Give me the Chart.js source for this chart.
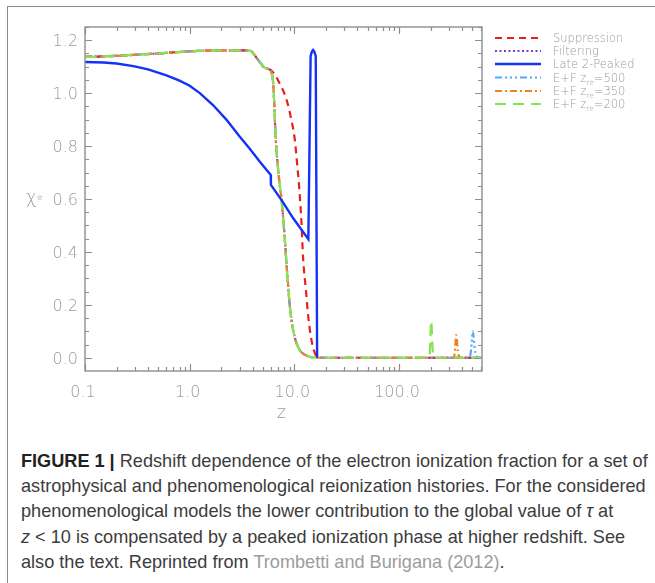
<!DOCTYPE html>
<html>
<head>
<meta charset="utf-8">
<script src="https://cdn.jsdelivr.net/npm/chart.js@4.4.1/dist/chart.umd.min.js"></script>
<style>
  html, body { margin: 0; padding: 0; background: #fff; width: 655px; height: 583px; overflow: hidden; }
  #frame { position: absolute; left: 7px; top: 6px; width: 720px; height: 660px;
           border-left: 1.5px solid #8c8c8c; border-top: 1.5px solid #8c8c8c; }
  #plot { position: absolute; left: 0; top: 0; }
  #caption { position: absolute; left: 21px; top: 0; font-family: "Liberation Sans", Arial, sans-serif; color: #3c3c3c; }
  #caption div { position: absolute; left: 0; white-space: nowrap; }
  #caption b { color: #222; }
  #caption .ref { color: #9c9c9c; }
</style>
</head>
<body>
<div id="frame"></div>
<canvas id="plot" width="655" height="440"></canvas>
<div id="caption">
  <div><span><b>FIGURE 1 |</b> Redshift dependence of the electron ionization fraction for a set of</span></div>
  <div><span>astrophysical and phenomenological reionization histories. For the considered</span></div>
  <div><span>phenomenological models the lower contribution to the global value of <i>τ</i> at</span></div>
  <div><span><i>z</i> &lt; 10 is compensated by a peaked ionization phase at higher redshift. See</span></div>
  <div><span>also the text. Reprinted from <span class="ref">Trombetti and Burigana (2012)</span>.</span></div>
</div>
<script>
// ---- ionization histories x_e(z) ----
// low-redshift plateau shared by all astrophysical/phenomenological models (H + He reionized)
const Z_LOW  = [0.1, 0.15, 0.2, 0.3, 0.45, 0.7, 1.0, 1.5, 2.2, 3.0, 3.75, 4.5, 5.2, 5.9];
const XE_LOW = [1.137, 1.139, 1.141, 1.145, 1.149, 1.154, 1.158, 1.161, 1.162, 1.162, 1.161, 1.126, 1.096, 1.088];

// Suppression: slower hydrogen reionization
const Z_SUPP  = [6.5, 7.26, 8.0, 8.7, 9.2, 10.1, 10.6, 11.1, 11.7, 12.1, 12.9, 13.6, 14.6, 16.1, 17.5, 620];
const XE_SUPP = [1.071, 1.035, 1.0, 0.955, 0.913, 0.824, 0.737, 0.647, 0.509, 0.381, 0.254, 0.153, 0.065, 0.008, 0.0, 0.0];

// Filtering: fast drop just above z ~ 6
const Z_FILT  = [6.05, 6.27, 6.65, 7.16, 7.55, 8.12, 8.54, 9.06, 9.75, 10.9, 13.1, 16.3, 20];
const XE_FILT = [1.077, 1.04, 0.824, 0.672, 0.596, 0.444, 0.319, 0.193, 0.103, 0.039, 0.008, 0.001, 0.0];
const Z_END = 620;

// Late 2-Peaked: phenomenological model with a second ionization peak
const Z_LATE  = [0.1, 0.15, 0.2, 0.29, 0.4, 0.6, 0.8, 1.0, 1.25, 1.67, 2.24, 3.0, 3.75, 4.7, 5.95, 5.97, 7.55, 9.75, 13.6,
                 14.3, 14.7, 15.1, 15.5, 16.0, 16.5];
const XE_LATE = [1.118, 1.116, 1.112, 1.102, 1.090, 1.067, 1.047, 1.028, 1.0, 0.955, 0.9, 0.836, 0.79, 0.74, 0.691, 0.653, 0.596, 0.527, 0.448,
                 1.14, 1.157, 1.163, 1.157, 1.14, 0.0];

// early peaked ionization phases (E+F) at z_re = 500, 350, 200
const Z_PEAK_500  = [460, 480, 495, 505, 515, 528, 545, 565];
const XE_PEAK_500 = [0.0, 0.01, 0.06, 0.10, 0.08, 0.035, 0.008, 0.0];
const Z_PEAK_350  = [325, 338, 345, 350, 356, 362, 372, 385];
const XE_PEAK_350 = [0.0, 0.01, 0.05, 0.086, 0.075, 0.035, 0.008, 0.0];
const Z_PEAK_200  = [190, 196, 199, 202, 205, 208, 212, 220];
const XE_PEAK_200 = [0.0, 0.01, 0.07, 0.14, 0.12, 0.05, 0.01, 0.0];

const SERIES_NAMES = ['Suppression', 'Filtering', 'Late 2-Peaked', 'E+F', 'E+F', 'E+F'];
const ZRE_LABELS   = [null, null, null, '500', '350', '200'];

// axes
const X_MIN = 0.1, X_MAX = 620, Y_MIN = -0.05, Y_MAX = 1.25;
const X_TICKS = [0.1, 1, 10, 100];
const X_TICK_LABELS = ['0.1', '1.0', '10.0', '100.0'];
const Y_TICKS = [0.0, 0.2, 0.4, 0.6, 0.8, 1.0, 1.2];
const Y_TICK_LABELS = ['0.0', '0.2', '0.4', '0.6', '0.8', '1.0', '1.2'];

// ---- assemble point lists ----
const pts = (zs, xs) => zs.map((z, i) => ({ x: z, y: xs[i] }));
const supp = pts([...Z_LOW, ...Z_SUPP], [...XE_LOW, ...XE_SUPP]);
const filt = pts([...Z_LOW, ...Z_FILT, Z_END], [...XE_LOW, ...XE_FILT, 0]);
const late = pts(Z_LATE, XE_LATE);
const ef = (zp, xp) => pts([...Z_LOW, ...Z_FILT, ...zp, Z_END], [...XE_LOW, ...XE_FILT, ...xp, 0]);

const AXIS_COLOR = '#8e8e8e';
const TEXT_COLOR = '#9a9a9a';
const LABEL_FONT = '"DejaVu Sans", "Liberation Sans", sans-serif';

const line = (label, data, color, dash, width, order, smooth) => ({
  label, data, borderColor: color, borderDash: dash, borderWidth: width,
  pointRadius: 0, tension: 0, cubicInterpolationMode: smooth ? 'monotone' : 'default', fill: false, order
});

const datasets = [
  line(SERIES_NAMES[0], supp, '#e8201c', [7, 5], 2.2, 6, true),
  line(SERIES_NAMES[1], filt, '#7b3cc8', [2, 2.5], 2.2, 5, true),
  line(SERIES_NAMES[2], late, '#1432f5', [], 2.4, 1, false),
  line(SERIES_NAMES[3], ef(Z_PEAK_500, XE_PEAK_500), '#55a8ff', [7, 3, 2, 3, 2, 3, 2, 3], 2.2, 4, true),
  line(SERIES_NAMES[4], ef(Z_PEAK_350, XE_PEAK_350), '#f08224', [7, 3, 2, 3], 2.2, 3, true),
  line(SERIES_NAMES[5], ef(Z_PEAK_200, XE_PEAK_200), '#86e451', [11, 7], 2.2, 2, true)
];

// box, inward ticks, labels, titles and legend in the plotting style of the figure
const decorations = {
  id: 'decorations',
  afterDatasetsDraw(chart) {
    const { ctx, chartArea: a, scales: { x, y } } = chart;
    ctx.save();
    ctx.strokeStyle = AXIS_COLOR;
    ctx.lineWidth = 1.4;
    ctx.strokeRect(a.left, a.top, a.right - a.left, a.bottom - a.top);

    ctx.lineWidth = 1.2;
    ctx.beginPath();
    for (let d = -1; d <= 2; d++) {
      for (let m = 1; m <= 9; m++) {
        const v = m * Math.pow(10, d);
        if (v < X_MIN - 1e-9 || v > X_MAX) continue;
        const px = Math.round(x.getPixelForValue(v)) + 0.5;
        const len = m === 1 ? 7 : 4;
        ctx.moveTo(px, a.bottom); ctx.lineTo(px, a.bottom - len);
        ctx.moveTo(px, a.top); ctx.lineTo(px, a.top + len);
      }
    }
    for (let i = 0; i <= 25; i++) {
      const v = i * 0.05;
      const py = Math.round(y.getPixelForValue(v)) + 0.5;
      const len = i % 4 === 0 ? 7 : 4;
      ctx.moveTo(a.left, py); ctx.lineTo(a.left + len, py);
      ctx.moveTo(a.right, py); ctx.lineTo(a.right - len, py);
    }
    ctx.stroke();

    ctx.fillStyle = TEXT_COLOR;
    ctx.font = '200 16px ' + LABEL_FONT;
    ctx.textBaseline = 'alphabetic';
    ctx.textAlign = 'right';
    Y_TICKS.forEach((v, i) => ctx.fillText(Y_TICK_LABELS[i], a.left - 7, y.getPixelForValue(v) + 6));
    ctx.textAlign = 'center';
    X_TICKS.forEach((v, i) => ctx.fillText(X_TICK_LABELS[i], x.getPixelForValue(v) - 2, a.bottom + 26));

    // axis titles
    ctx.font = '200 17px ' + LABEL_FONT;
    ctx.fillText('z', (a.left + a.right) / 2 - 2, a.bottom + 47);
    ctx.textAlign = 'left';
    ctx.font = '200 18px ' + LABEL_FONT;
    ctx.fillText('χ', 26, 203);
    ctx.font = '200 9px ' + LABEL_FONT;
    ctx.fillText('e', 37, 200);

    // legend
    const rows = [38, 51, 64, 77.5, 91, 104];
    chart.data.datasets.forEach((ds, i) => {
      const ry = rows[i];
      ctx.strokeStyle = ds.borderColor;
      ctx.lineWidth = ds.borderWidth;
      ctx.setLineDash(ds.borderDash);
      ctx.beginPath();
      ctx.moveTo(495, ry); ctx.lineTo(541, ry);
      ctx.stroke();
      ctx.setLineDash([]);
      ctx.fillStyle = TEXT_COLOR;
      ctx.font = '200 11.5px ' + LABEL_FONT;
      let tx = 553;
      const by = ry + 4;
      if (ZRE_LABELS[i]) {
        const head = ds.label + ' z';
        ctx.fillText(head, tx, by);
        tx += ctx.measureText(head).width;
        ctx.font = '200 7.5px ' + LABEL_FONT;
        ctx.fillText('re', tx, by + 3);
        tx += ctx.measureText('re').width;
        ctx.font = '200 11.5px ' + LABEL_FONT;
        ctx.fillText('=' + ZRE_LABELS[i], tx, by);
      } else {
        ctx.fillText(ds.label, tx, by);
      }
    });
    ctx.restore();
  }
};

new Chart(document.getElementById('plot'), {
  type: 'line',
  data: { datasets },
  options: {
    responsive: false,
    devicePixelRatio: 1,
    animation: false,
    events: [],
    layout: { padding: { left: 0, top: 27, right: 173, bottom: 0 } },
    plugins: { legend: { display: false }, tooltip: { enabled: false } },
    scales: {
      x: {
        type: 'logarithmic', min: X_MIN, max: X_MAX,
        ticks: { display: false }, grid: { display: false }, border: { display: false },
        afterFit: s => { s.height = 69; }
      },
      y: {
        type: 'linear', min: Y_MIN, max: Y_MAX,
        ticks: { display: false }, grid: { display: false }, border: { display: false },
        afterFit: s => { s.width = 85; }
      }
    }
  },
  plugins: [decorations]
});

// caption: fit the first line to the text column width, fixed baselines
const CAPTION_WIDTH = 627, CAP_BASE0 = 467, CAP_STEP = 25.3;
const cap = document.getElementById('caption');
const capRows = cap.querySelectorAll(':scope > div');
cap.style.fontSize = '16px';
const w16 = capRows[0].querySelector('span').getBoundingClientRect().width;
const fs = 16 * CAPTION_WIDTH / w16;
cap.style.fontSize = fs + 'px';
capRows.forEach((r, i) => {
  r.style.lineHeight = fs + 'px';
  r.style.top = (CAP_BASE0 + i * CAP_STEP - 0.8465 * fs) + 'px';
});
</script>
</body>
</html>
